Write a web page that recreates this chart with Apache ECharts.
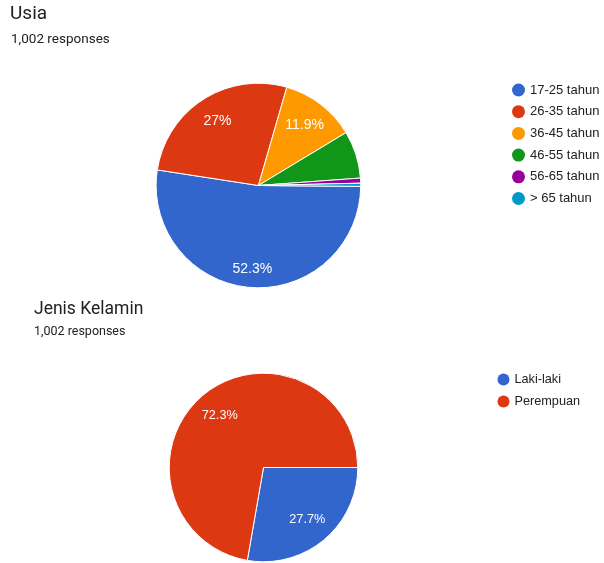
<!DOCTYPE html>
<html>
<head>
<meta charset="utf-8">
<script src="https://cdn.jsdelivr.net/npm/echarts@6/dist/echarts.min.js"></script>
<style>
  html, body { margin: 0; padding: 0; background: #ffffff; }
  #chart { width: 604px; height: 563px; }
</style>
</head>
<body>
<div id="chart"></div>
<script>
// ---- Data ----
const ageTitle = 'Usia';
const ageResponses = '1,002 responses';
const ageCategories = ['17-25 tahun', '26-35 tahun', '36-45 tahun', '46-55 tahun', '56-65 tahun', '> 65 tahun'];
const ageCounts = [524, 271, 119, 75, 8, 5];

const genderTitle = 'Jenis Kelamin';
const genderResponses = '1,002 responses';
const genderCategories = ['Laki-laki', 'Perempuan'];
const genderCounts = [278, 724];

// ---- Styles ----
const palette = ['#3366cc', '#dc3912', '#ff9900', '#109618', '#990099', '#0099c6'];
const labelFont = 'Liberation Sans, Arial, sans-serif';
const titleFont = 'Roboto, sans-serif';

function pieData(names, values) {
  return names.map((n, i) => ({ name: n, value: values[i] }));
}
function labelData(values) {
  return values.map(v => ({ value: v }));
}
const pctFormatter = p => (p.percent >= 10 ? p.percent + '%' : '');

const chart = echarts.init(document.getElementById('chart'), null, { renderer: 'canvas' });

const option = {
  backgroundColor: '#ffffff',
  animation: false,
  color: palette,
  title: [
    { text: ageTitle, left: 10, top: 4.7, padding: 0,
      textStyle: { fontFamily: titleFont, fontSize: 19, fontWeight: 'normal', color: '#202124' } },
    { text: ageResponses, left: 11, top: 32.7, padding: 0,
      textStyle: { fontFamily: titleFont, fontSize: 13.5, fontWeight: 'normal', color: '#202124' } },
    { text: genderTitle, left: 34, top: 301, padding: 0,
      textStyle: { fontFamily: titleFont, fontSize: 17.5, fontWeight: 'normal', color: '#202124' } },
    { text: genderResponses, left: 34, top: 325, padding: 0,
      textStyle: { fontFamily: titleFont, fontSize: 12.5, fontWeight: 'normal', color: '#202124' } }
  ],
  legend: [
    {
      data: ageCategories, orient: 'vertical', left: 512, top: 83.5, padding: 0,
      icon: 'circle', itemWidth: 13, itemHeight: 13, itemGap: 8.7,
      itemStyle: { borderWidth: 0 },
      textStyle: { fontFamily: labelFont, fontSize: 13, color: '#222222', lineHeight: 13 }
    },
    {
      data: genderCategories, orient: 'vertical', left: 497.5, top: 373, padding: 0,
      icon: 'circle', itemWidth: 12, itemHeight: 12, itemGap: 9,
      itemStyle: { borderWidth: 0 },
      textStyle: { fontFamily: labelFont, fontSize: 12.7, color: '#222222', lineHeight: 12 }
    }
  ],
  series: [
    {
      type: 'pie', center: [258.4, 185.5], radius: 102.3, startAngle: -0.5, clockwise: true,
      data: pieData(ageCategories, ageCounts),
      label: { show: false }, labelLine: { show: false },
      itemStyle: { borderColor: '#ffffff', borderWidth: 1 },
      emphasis: { disabled: true }
    },
    {
      type: 'pie', center: [258.4, 185.5], radius: 146, startAngle: -0.5, clockwise: true,
      silent: true, percentPrecision: 1, z: 5,
      data: labelData(ageCounts),
      itemStyle: { color: 'rgba(0,0,0,0)', borderWidth: 0 },
      label: { show: true, position: 'inside', formatter: pctFormatter,
        color: '#ffffff', fontFamily: labelFont, fontSize: 14 },
      labelLine: { show: false },
      labelLayout: p => (p.dataIndex === 0 ? { dy: 8 } : {}),
      emphasis: { disabled: true }
    },
    {
      type: 'pie', center: [263.5, 467.5], radius: 94.3, startAngle: 0, clockwise: true,
      data: pieData(genderCategories, genderCounts),
      label: { show: false }, labelLine: { show: false },
      itemStyle: { borderColor: '#ffffff', borderWidth: 1 },
      emphasis: { disabled: true }
    },
    {
      type: 'pie', center: [263.5, 467.5], radius: 130, startAngle: 0, clockwise: true,
      silent: true, percentPrecision: 1, z: 5,
      data: labelData(genderCounts),
      itemStyle: { color: 'rgba(0,0,0,0)', borderWidth: 0 },
      label: { show: true, position: 'inside', formatter: pctFormatter,
        color: '#ffffff', fontFamily: labelFont, fontSize: 12.7 },
      labelLine: { show: false },
      emphasis: { disabled: true }
    }
  ]
};
chart.setOption(option);
</script>
</body>
</html>
